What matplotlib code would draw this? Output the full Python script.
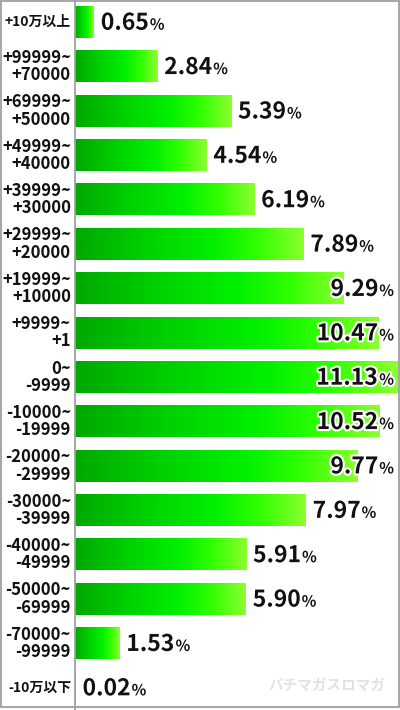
import matplotlib
matplotlib.use("Agg")
import matplotlib.pyplot as plt
import numpy as np
from matplotlib.colors import LinearSegmentedColormap
from matplotlib.transforms import IdentityTransform
import matplotlib.patheffects as pe

plt.rcParams['font.family'] = ['Noto Sans CJK JP', 'DejaVu Sans']

categories = ["+10万以上", "+99999~\n+70000", "+69999~\n+50000", "+49999~\n+40000",
              "+39999~\n+30000", "+29999~\n+20000", "+19999~\n+10000", "+9999~\n+1",
              "0~\n-9999", "-10000~\n-19999", "-20000~\n-29999", "-30000~\n-39999",
              "-40000~\n-49999", "-50000~\n-69999", "-70000~\n-99999", "-10万以下"]
values = [0.65, 2.84, 5.39, 4.54, 6.19, 7.89, 9.29, 10.47, 11.13, 10.52, 9.77, 7.97,
          5.91, 5.90, 1.53, 0.02]
pct_labels = [f"{v:.2f}" for v in values]

W, H = 400, 710
fig = plt.figure(figsize=(W / 100, H / 100), dpi=100)
fig.patch.set_facecolor("white")
ax = fig.add_axes([75 / W, 0, 323 / W, 1])
ax.axis("off")

cmap = LinearSegmentedColormap.from_list(
    "g", [(0, "#00a800"), (0.3, "#00d000"), (0.6, "#00f000"), (0.8, "#30ff00"), (1, "#8cff30")])
grad = np.linspace(0, 1, 256).reshape(1, -1)

ypos = np.arange(len(values))
bars = ax.barh(ypos, values, height=0.71, color="none", edgecolor="none", zorder=2)
for b in bars:
    x0, y0, w, h = b.get_x(), b.get_y(), b.get_width(), b.get_height()
    ax.imshow(grad, cmap=cmap, aspect="auto", extent=(x0, x0 + max(w, 0.03), y0 + h, y0),
              zorder=2, interpolation="bicubic")
ax.set_xlim(0, 11.16)
ax.set_ylim(len(values) - 0.5, -0.5)

# vertical axis line
fig.add_artist(plt.Line2D([74.5 / W, 74.5 / W], [0, 1], color="#a0a0a0", lw=1.3))
# border
fig.add_artist(plt.Rectangle((0.5 / W, 3 / H), 398 / W, 706 / H, fill=False,
                             edgecolor="#a8a8a8", lw=1.5))

# watermark
fig.text(327 / W, 1 - 685 / H, "パチマガスロマガ", ha="center", va="center", fontsize=10.5,
         color="#e2e2e2", fontweight="bold", style="italic", zorder=0)

# category labels
for i, c in enumerate(categories):
    yc = ax.transData.transform((0, i))[1]
    single = "\n" not in c
    fig.text(71, yc, c, transform=IdentityTransform(), ha="right", va="center",
             fontsize=10 if single else 12, fontweight="bold", linespacing=0.95,
             color="#111111")

# value labels
fig.canvas.draw()
renderer = fig.canvas.get_renderer()
stroke = [pe.withStroke(linewidth=3, foreground="white")]
for i, (v, lab) in enumerate(zip(values, pct_labels)):
    xe, yc = ax.transData.transform((v, i))
    base = yc - 7.5
    t1 = fig.text(xe + 7, base, lab, transform=IdentityTransform(), ha="left", va="baseline",
                  fontsize=16.5, fontweight="bold", color="#111111", path_effects=stroke,
                  zorder=5)
    w1 = t1.get_window_extent(renderer).width
    t2 = fig.text(xe + 7 + w1 + 1, base, "%", transform=IdentityTransform(), ha="left",
                  va="baseline", fontsize=11, fontweight="bold", color="#111111",
                  path_effects=stroke, zorder=5)
    w2 = t2.get_window_extent(renderer).width
    right = xe + 7 + w1 + 1 + w2
    if right > 394:
        shift = right - 394
        t1.set_x(t1.get_position()[0] - shift)
        t2.set_x(t2.get_position()[0] - shift)

fig.savefig("out.png", dpi=100)
